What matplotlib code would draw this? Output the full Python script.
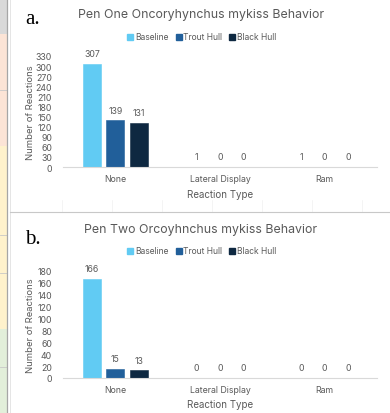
import matplotlib
matplotlib.use("Agg")
import matplotlib.pyplot as plt
from matplotlib.patches import Rectangle
from matplotlib.lines import Line2D
import numpy as np

categories = ["None", "Lateral Display", "Ram"]
series = ["Baseline", "Trout Hull", "Black Hull"]
colors = ["#61CBF3", "#215F9A", "#0E2841"]

pen1_baseline = [307, 1, 1]
pen1_trout = [139, 0, 0]
pen1_black = [131, 0, 0]

pen2_baseline = [166, 0, 0]
pen2_trout = [15, 0, 0]
pen2_black = [13, 0, 0]

pen1_ticks = list(range(0, 331, 30))
pen2_ticks = list(range(0, 181, 20))

W, H = 390, 414
fig = plt.figure(figsize=(W / 100, H / 100), dpi=100)
fig.patch.set_facecolor("white")
plt.rcParams["font.family"] = ["Inter", "DejaVu Sans"]

GRAY = "#595959"

def px(x, y):
    return x / W, 1 - y / H

# left spreadsheet strip
strip = [(0, 35, "#d9d9d9"), (35, 147, "#fce4d6"), (147, 330, "#fff2cc"), (330, 414, "#e2efda")]
for y0, y1, c in strip:
    fig.patches.append(Rectangle((0, 1 - y1 / H), 6.5 / W, (y1 - y0) / H,
                                 transform=fig.transFigure, facecolor=c, edgecolor="none"))
for yy in [91, 236, 274, 368]:
    fig.add_artist(Line2D([0, 6.5 / W], [1 - yy / H] * 2, transform=fig.transFigure, color="#c8c8c8", lw=0.6))
fig.add_artist(Line2D([7 / W] * 2, [0, 1], transform=fig.transFigure, color="#a6a6a6", lw=0.9))
fig.add_artist(Line2D([10 / W] * 2, [0, 1], transform=fig.transFigure, color="#e0e0e0", lw=0.6))
# spreadsheet cells between charts
for xx in [62, 112, 162, 212, 262, 312, 362]:
    fig.add_artist(Line2D([xx / W] * 2, [1 - 213 / H, 1 - 201 / H], transform=fig.transFigure, color="#f0f0f0", lw=0.5))
fig.add_artist(Line2D([10 / W, 1], [1 - 213 / H] * 2, transform=fig.transFigure, color="#c8c8c8", lw=0.8))


def panel(top, bottom, values, ticks, ymax, title, letter, title_y, legend_y, letter_y):
    ax = fig.add_axes([63 / W, 1 - bottom / H, 314 / W, (bottom - top) / H])
    x = np.arange(len(categories))
    offs = [-0.223, 0.0, 0.223]
    bw = 0.172
    for i, (vals, c) in enumerate(zip(values, colors)):
        bars = ax.bar(x + offs[i], vals, bw, color=c, edgecolor=c, linewidth=0.4, label=series[i], zorder=2)
        for b, v in zip(bars, vals):
            ax.annotate(str(v), (b.get_x() + b.get_width() / 2, v), xytext=(0, 4),
                        textcoords="offset points", ha="center", va="bottom",
                        fontsize=6.3, color=GRAY)
    ax.set_ylim(0, ymax)
    ax.set_xlim(-0.5, 2.5)
    ax.set_yticks(ticks)
    ax.set_xticks(x)
    ax.set_xticklabels(categories)
    ax.tick_params(axis="both", length=0, labelsize=6.3, labelcolor=GRAY)
    ax.tick_params(axis="y", pad=8)
    ax.tick_params(axis="x", pad=5)
    for s in ["left", "right", "top"]:
        ax.spines[s].set_visible(False)
    ax.spines["bottom"].set_color("#d9d9d9")
    ax.spines["bottom"].set_linewidth(0.8)
    ax.set_facecolor("none")
    ax.set_ylabel("Number of Reactions", fontsize=6.8, color=GRAY)
    ax.yaxis.set_label_coords(-(63 - 35) / 314, 0.5)
    ax.set_xlabel("Reaction Type", fontsize=7, color=GRAY, labelpad=4)
    fx, fy = px(201, title_y)
    fig.text(fx, fy, title, ha="center", va="center", fontsize=8.9, color=GRAY)
    lx, ly = px(202, legend_y)
    handles = [Line2D([], [], marker="s", linestyle="none", markersize=3.8, color=c) for c in colors]
    fig.legend(handles, series, loc="center", bbox_to_anchor=(lx, ly), ncol=3, frameon=False,
               fontsize=6.1, labelcolor=GRAY, handletextpad=0.25, columnspacing=0.9, handlelength=0.6)
    tx, ty = px(25, letter_y)
    fig.text(tx, ty, letter, ha="left", va="center", fontsize=15,
             family=["Liberation Serif"], color="black")
    return ax


panel(57, 168, [pen1_baseline, pen1_trout, pen1_black], pen1_ticks, 330,
      "Pen One Oncoryhynchus mykiss Behavior", "a.", 15, 38, 19)
panel(271.6, 379, [pen2_baseline, pen2_trout, pen2_black], pen2_ticks, 180,
      "Pen Two Orcoyhnchus mykiss Behavior", "b.", 230, 252, 240)

fig.savefig("out.png", dpi=100)
